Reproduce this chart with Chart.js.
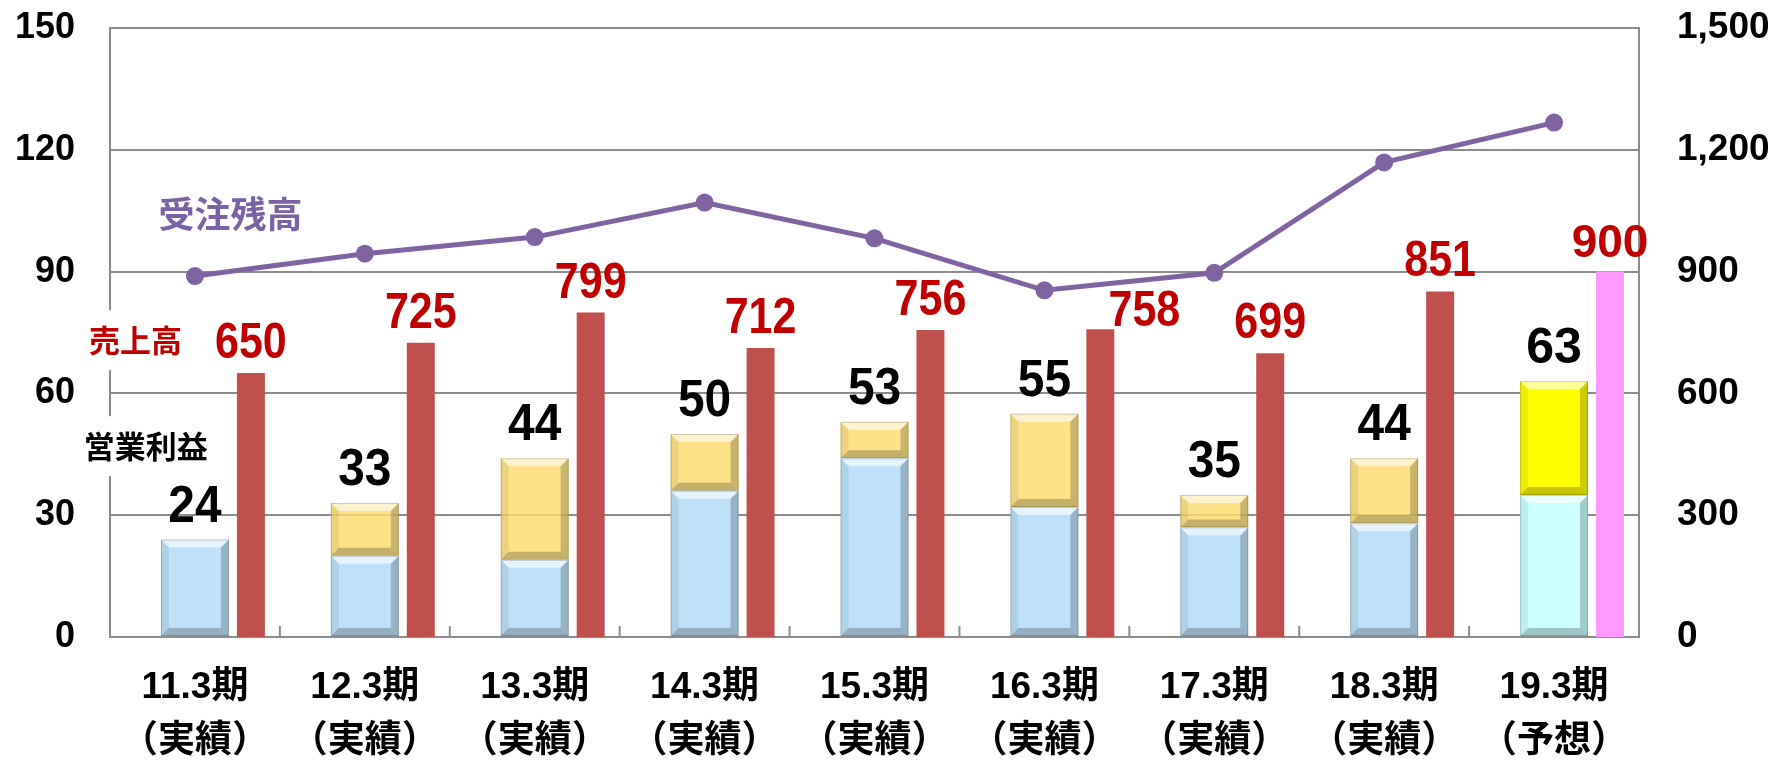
<!DOCTYPE html>
<html><head><meta charset="utf-8">
<script src="https://cdn.jsdelivr.net/npm/chart.js@4"></script>
<style>html,body{margin:0;padding:0;background:#fff}#wrap{width:1785px;height:765px;position:relative}</style>
</head><body><div id="wrap"><canvas id="c"></canvas></div>
<script>
const categories = [
  ['11.3期','（実績）'], ['12.3期','（実績）'], ['13.3期','（実績）'],
  ['14.3期','（実績）'], ['15.3期','（実績）'], ['16.3期','（実績）'],
  ['17.3期','（実績）'], ['18.3期','（実績）'], ['19.3期','（予想）']
];
const profitBase  = [24, 20, 19, 36, 44, 32, 27, 28, 35];
const profitExtra = [0, 13, 25, 14, 9, 23, 8, 16, 28];
const profitTotal = [24, 33, 44, 50, 53, 55, 35, 44, 63];
const sales       = [650, 725, 799, 712, 756, 758, 699, 851, 900];
const backlog     = [889, 944, 985, 1070, 982, 854, 897, 1169, 1267];
const isForecast  = [false, false, false, false, false, false, false, false, true];
const leftAxis  = { min: 0, max: 150, step: 30 };
const rightAxis = { min: 0, max: 1500, step: 300 };

const GRID = '#8c8c8c';
const ARIAL = "'Liberation Sans',Arial,sans-serif";
const CJK = "'Liberation Sans','Noto Sans CJK JP',sans-serif";

const bevelPlugin = {
  id: 'bevel',
  afterDatasetDraw(chart, args) {
    const ds = chart.data.datasets[args.index];
    if (!ds.bevel) return;
    const ctx = chart.ctx;
    args.meta.data.forEach((el, i) => {
      const v = ds.data[i];
      if (v === null || v === 0) return;
      const p = el.getProps(['x','y','base','width'], true);
      const l = p.x - p.width/2, r = p.x + p.width/2;
      const t = Math.min(p.y, p.base), b = Math.max(p.y, p.base);
      const h = b - t;
      const bv = Math.min(8, h/2);
      ctx.save();
      const poly = (pts, fill) => { ctx.beginPath(); ctx.moveTo(pts[0][0], pts[0][1]); for (let k=1;k<pts.length;k++) ctx.lineTo(pts[k][0], pts[k][1]); ctx.closePath(); ctx.fillStyle = fill; ctx.fill(); };
      poly([[l,t],[r,t],[r-bv,t+bv],[l+bv,t+bv]], 'rgba(255,255,255,0.6)');
      poly([[l,t],[l+bv,t+bv],[l+bv,b-bv],[l,b]], 'rgba(0,0,0,0.07)');
      poly([[r,t],[r,b],[r-bv,b-bv],[r-bv,t+bv]], 'rgba(0,0,0,0.2)');
      poly([[l,b],[r,b],[r-bv,b-bv],[l+bv,b-bv]], 'rgba(0,0,0,0.22)');
      ctx.strokeStyle = 'rgba(0,0,0,0.18)';
      ctx.lineWidth = 1;
      ctx.strokeRect(l+0.5, t+0.5, p.width-1, h-1);
      ctx.restore();
    });
  }
};

const tickPlugin = {
  id: 'catTicks',
  beforeDatasetsDraw(chart) {
    const x = chart.scales.x, ctx = chart.ctx, bottom = chart.chartArea.bottom;
    ctx.save();
    ctx.strokeStyle = GRID; ctx.lineWidth = 2;
    for (let i = 1; i < categories.length; i++) {
      const px = (x.getPixelForValue(i-1) + x.getPixelForValue(i)) / 2;
      ctx.beginPath(); ctx.moveTo(px, bottom); ctx.lineTo(px, bottom - 11); ctx.stroke();
    }
    ctx.restore();
  }
};

const salesLabelShift = { 5: [44, 12] };

function drawScaledText(ctx, text, x, y, sx) {
  ctx.save();
  ctx.translate(x, y);
  ctx.scale(sx, 1);
  ctx.fillText(text, 0, 0);
  ctx.restore();
}

const labelPlugin = {
  id: 'valueLabels',
  afterDatasetsDraw(chart) {
    const ctx = chart.ctx;
    const extraMeta = chart.getDatasetMeta(2);
    const salesMeta = chart.getDatasetMeta(3);
    ctx.save();
    ctx.textAlign = 'center';
    ctx.textBaseline = 'alphabetic';
    profitTotal.forEach((v, i) => {
      const el = extraMeta.data[i];
      ctx.fillStyle = '#000';
      ctx.font = `bold ${isForecast[i] ? 50 : 52}px ${ARIAL}`;
      drawScaledText(ctx, String(v), el.x, el.y - 18, isForecast[i] ? 1.0 : 0.92);
    });
    sales.forEach((v, i) => {
      const el = salesMeta.data[i];
      const sh = salesLabelShift[i] || [0, 0];
      ctx.fillStyle = '#c00000';
      ctx.font = `bold ${isForecast[i] ? 46 : 50}px ${ARIAL}`;
      drawScaledText(ctx, String(v), el.x + sh[0], el.y - 15 + sh[1], isForecast[i] ? 1.0 : 0.86);
    });
    ctx.restore();
  }
};

const notePlugin = {
  id: 'notes',
  afterDraw(chart) {
    const ctx = chart.ctx, x = chart.scales.x, y = chart.scales.y, y2 = chart.scales.y2;
    const catW = x.getPixelForValue(1) - x.getPixelForValue(0);
    const x0 = x.getPixelForValue(0);
    const notes = [
      { text: '受注残高', color: '#7b62a5', size: 36, cx: x0 + 0.21*catW, cy: y2.getPixelForValue(1042), box: false },
      { text: '売上高', color: '#c00000', size: 31, cx: x0 - 0.35*catW, cy: y2.getPixelForValue(731), box: true },
      { text: '営業利益', color: '#000000', size: 31, cx: x0 - 0.29*catW, cy: y.getPixelForValue(47), box: true }
    ];
    ctx.save();
    ctx.textAlign = 'center';
    ctx.textBaseline = 'middle';
    notes.forEach(n => {
      ctx.font = `bold ${n.size}px 'Noto Sans CJK JP',sans-serif`;
      const w = ctx.measureText(n.text).width;
      if (n.box) {
        ctx.fillStyle = '#fff';
        ctx.fillRect(n.cx - w/2 - 8, n.cy - 30, w + 16, 60);
      }
      ctx.fillStyle = n.color;
      ctx.fillText(n.text, n.cx, n.cy);
    });
    ctx.restore();
  }
};

const CP = 0.988;
const chart = new Chart(document.getElementById('c'), {
  data: {
    labels: categories,
    datasets: [
      { type: 'bar', label: 'pad', stack: 'pad', yAxisID: 'y', data: categories.map(() => null),
        categoryPercentage: CP, barPercentage: 0.5, backgroundColor: 'rgba(0,0,0,0)' },
      { type: 'bar', label: '営業利益A', stack: 'profit', yAxisID: 'y', data: profitBase, bevel: true,
        categoryPercentage: CP, barPercentage: 1.214,
        backgroundColor: ctx => isForecast[ctx.dataIndex] ? '#ccffff' : '#bee0f8' },
      { type: 'bar', label: '営業利益B', stack: 'profit', yAxisID: 'y', data: profitExtra, bevel: true,
        categoryPercentage: CP, barPercentage: 1.214,
        backgroundColor: ctx => isForecast[ctx.dataIndex] ? '#ffff00' : 'rgba(253,220,110,0.82)' },
      { type: 'bar', label: '売上高', stack: 'sales', yAxisID: 'y2', data: sales,
        categoryPercentage: CP, barPercentage: 0.5,
        backgroundColor: ctx => isForecast[ctx.dataIndex] ? '#ff99ff' : '#c0504d' },
      { type: 'line', label: '受注残高', yAxisID: 'y2', data: backlog,
        borderColor: '#8064a2', backgroundColor: '#8064a2', borderWidth: 5,
        pointRadius: 9, pointHoverRadius: 9, pointBackgroundColor: '#8064a2', pointBorderWidth: 0, tension: 0 }
    ]
  },
  options: {
    responsive: true, maintainAspectRatio: false, animation: false, devicePixelRatio: 1,
    layout: { padding: { top: 28, left: 0, right: 0, bottom: 0 } },
    plugins: { legend: { display: false }, tooltip: { enabled: false } },
    scales: {
      x: {
        stacked: true, offset: true,
        grid: { display: false, drawTicks: false },
        border: { display: true, color: GRID, width: 2 },
        ticks: { color: '#000', padding: 24, font: { family: CJK, size: 37, weight: 'bold', lineHeight: 1.45 }, maxRotation: 0, autoSkip: false },
        afterFit: s => { s.height = 128; s.paddingLeft = 0; s.paddingRight = 0; }
      },
      y: {
        position: 'left', stacked: true, min: leftAxis.min, max: leftAxis.max,
        grid: { color: GRID, lineWidth: 2, drawTicks: false },
        border: { display: true, color: GRID, width: 2 },
        ticks: { stepSize: leftAxis.step, color: '#000', padding: 35, font: { family: ARIAL, size: 36, weight: 'bold' } },
        afterFit: s => { s.width = 110; s.paddingTop = 0; s.paddingBottom = 0; }
      },
      y2: {
        position: 'right', stacked: false, min: rightAxis.min, max: rightAxis.max,
        grid: { display: false, drawTicks: false },
        border: { display: true, color: GRID, width: 2 },
        ticks: { stepSize: rightAxis.step, color: '#000', padding: 38, font: { family: ARIAL, size: 37, weight: 'bold' },
          callback: v => v.toLocaleString('en-US') },
        afterFit: s => { s.width = 146; s.paddingTop = 0; s.paddingBottom = 0; }
      }
    }
  },
  plugins: [tickPlugin, bevelPlugin, labelPlugin, notePlugin]
});
</script>
</body></html>
